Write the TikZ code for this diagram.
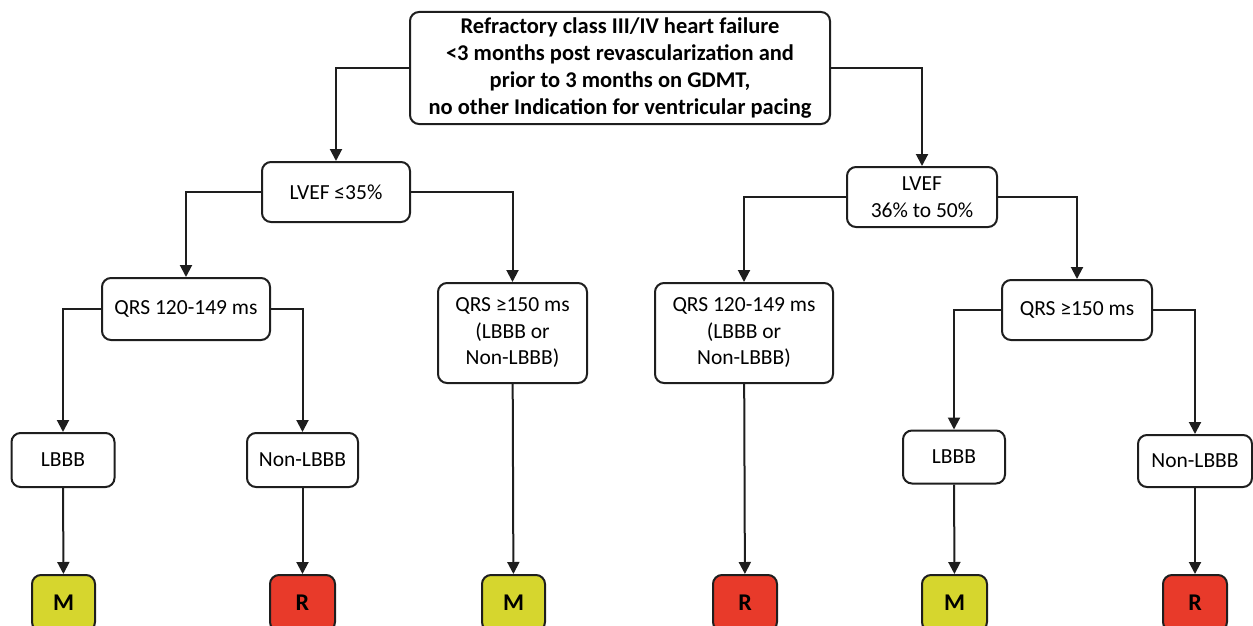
\documentclass[tikz,border=0pt]{standalone}
\usepackage{fontspec}
\setmainfont{Carlito}
\usetikzlibrary{arrows.meta}
\definecolor{myyellow}{RGB}{214,214,46}
\definecolor{myred}{RGB}{232,58,42}
\definecolor{ink}{RGB}{30,30,30}
\begin{document}
\begin{tikzpicture}[x=1pt,y=-1pt,
  box/.style={draw=ink,line width=2pt,rounded corners=9pt,fill=white,inner sep=0pt,
    align=center,font=\fontsize{21.5}{26.5}\selectfont},
  res/.style={box,font=\fontsize{24}{26}\selectfont\bfseries,minimum width=63pt,minimum height=56pt},
  arr/.style={draw=ink,line width=2pt,-{Triangle[length=12pt,width=12pt]}}]
\useasboundingbox (0,0) rectangle (1253,626);
\node[box,minimum width=420pt,minimum height=112pt,font=\fontsize{22.5}{26.7}\selectfont\bfseries] (top) at (620,68)
  {Refractory class III/IV heart failure\\<3 months post revascularization and\\prior to 3 months on GDMT,\\no other Indication for ventricular pacing};
\node[box,minimum width=148pt,minimum height=60pt] (lv1) at (336,192) {LVEF ≤35\%};
\node[box,minimum width=150pt,minimum height=60pt] (lv2) at (922,197) {LVEF\\36\% to 50\%};
\node[box,minimum width=168pt,minimum height=62pt] (q1) at (186,309) {QRS 120-149 ms};
\node[box,minimum width=149pt,minimum height=100pt] (q2) at (512.5,333) {QRS ≥150 ms\\(LBBB or\\Non-LBBB)};
\node[box,minimum width=178pt,minimum height=100pt] (q3) at (744,333) {QRS 120-149 ms\\(LBBB or\\Non-LBBB)};
\node[box,minimum width=150pt,minimum height=60pt] (q4) at (1077,310) {QRS ≥150 ms};
\node[box,minimum width=103pt,minimum height=54pt] (lb1) at (63,460) {LBBB};
\node[box,minimum width=111pt,minimum height=54pt] (nl1) at (302.5,460) {Non-LBBB};
\node[box,minimum width=102pt,minimum height=53pt] (lb2) at (954,457) {LBBB};
\node[box,minimum width=114pt,minimum height=52pt] (nl2) at (1195,461) {Non-LBBB};
\node[res,fill=myyellow] (m1) at (63.5,603) {M};
\node[res,fill=myred,minimum width=65pt] (r1) at (302.5,603) {R};
\node[res,fill=myyellow] (m2) at (513.5,603) {M};
\node[res,fill=myred,minimum width=64pt] (r2) at (745,603) {R};
\node[res,fill=myyellow,minimum width=65pt] (m3) at (954.5,603) {M};
\node[res,fill=myred,minimum width=64pt] (r3) at (1195,603) {R};
\draw[arr] (top.west) -| (lv1.north);
\draw[arr] (top.east) -| (lv2.north);
\draw[arr] (lv1.west) -| (q1.north);
\draw[arr] (lv1.east) -| (q2.north);
\draw[arr] (lv2.west) -| (q3.north);
\draw[arr] (lv2.east) -| (q4.north);
\draw[arr] (q1.west) -| (lb1.north);
\draw[arr] (q1.east) -| (nl1.north);
\draw[arr] (q4.west) -| (lb2.north);
\draw[arr] (q4.east) -| (nl2.north);
\draw[arr] (lb1) -- (m1);
\draw[arr] (nl1) -- (r1);
\draw[arr] (q2) -- (m2);
\draw[arr] (q3) -- (r2);
\draw[arr] (lb2) -- (m3);
\draw[arr] (nl2) -- (r3);
\end{tikzpicture}
\end{document}
